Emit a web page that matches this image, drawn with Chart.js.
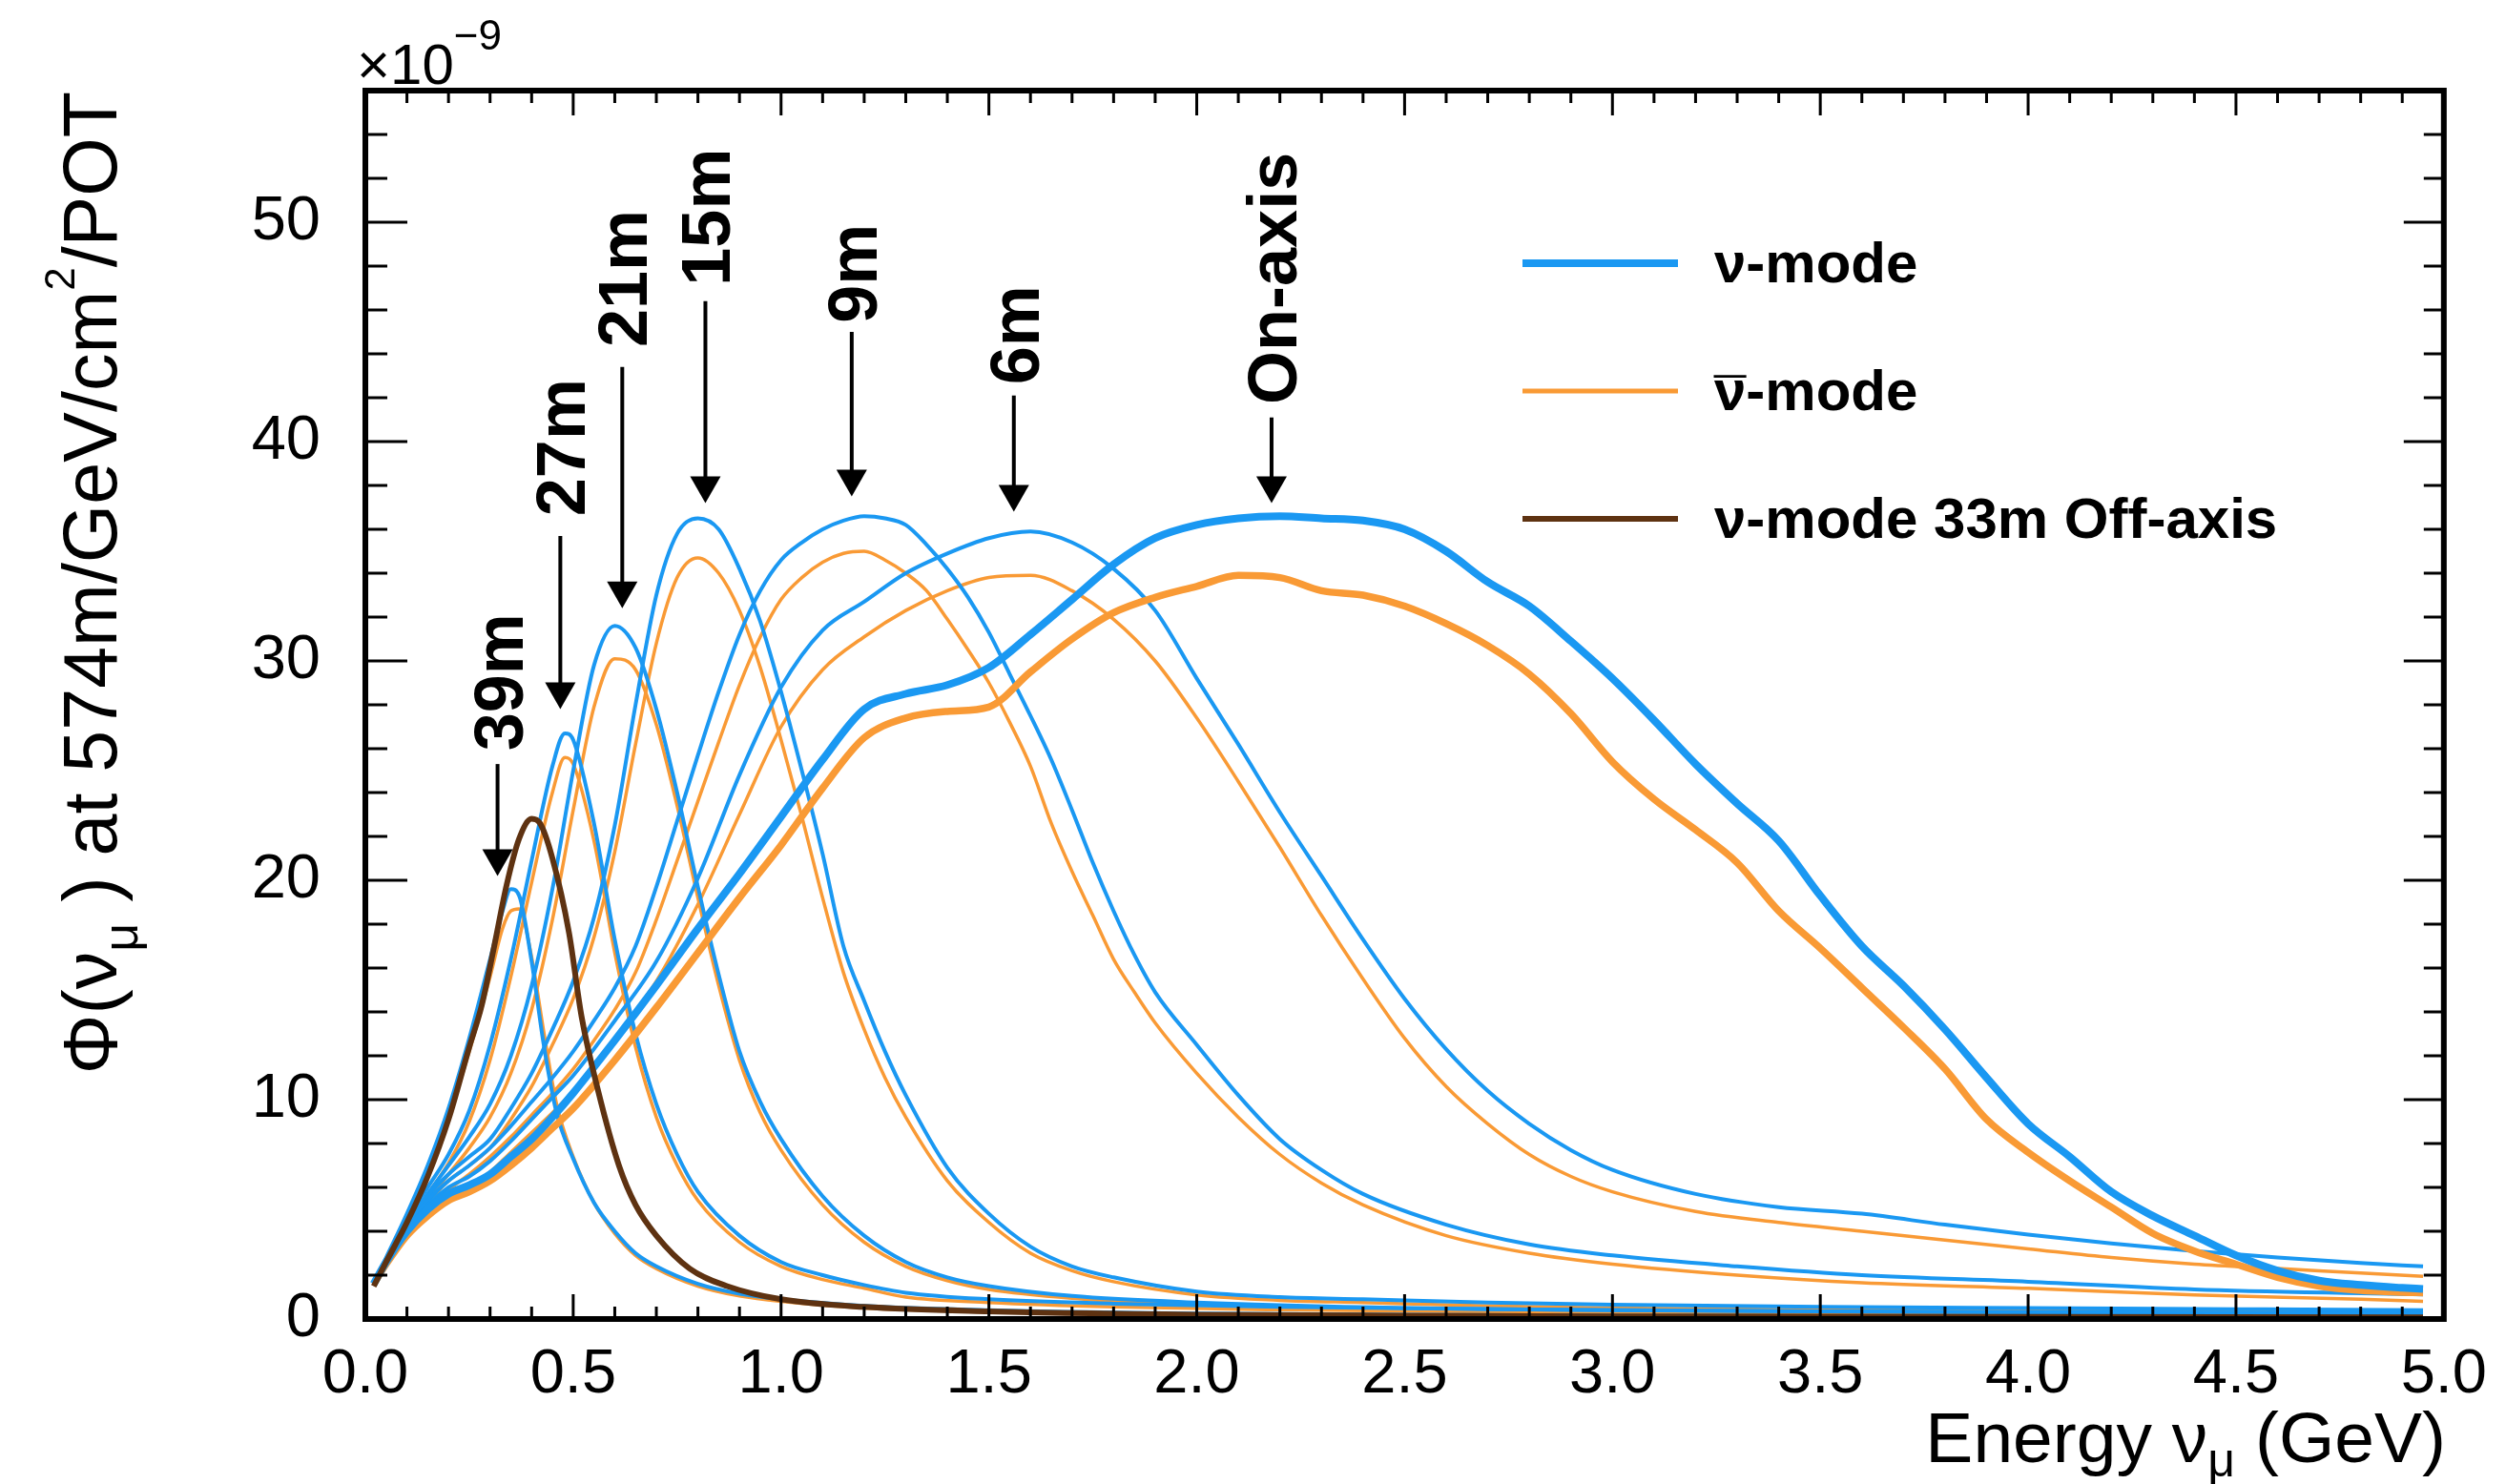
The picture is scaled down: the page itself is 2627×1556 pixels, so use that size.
<!DOCTYPE html>
<html>
<head>
<meta charset="utf-8">
<title>Muon neutrino flux at 574 m, on-axis and off-axis</title>
<script src="https://cdn.jsdelivr.net/npm/chart.js@4.4.1/dist/chart.umd.min.js"></script>
<style>
  html, body { margin: 0; padding: 0; background: #fff; }
  #wrap { width: 2627px; height: 1556px; }
</style>
</head>
<body>
<div id="wrap"><canvas id="flux" width="2627" height="1556"></canvas></div>
<script>
// ---- data (flux in units of 1e-9 /GeV/cm2/POT, energy in GeV) ----
const energyOnAxis = [0.02,0.05,0.1,0.15,0.2,0.25,0.3,0.35,0.4,0.45,0.5,0.6,0.7,0.8,0.9,1.0,1.1,1.2,1.3,1.4,1.5,1.6,1.7,1.8,1.9,2.0,2.1,2.2,2.3,2.4,2.5,2.6,2.7,2.8,2.9,3.0,3.1,3.2,3.3,3.4,3.5,3.6,3.7,3.8,3.9,4.0,4.1,4.2,4.3,4.4,4.5,4.6,4.7,4.8,4.9,4.95];
const nuOnAxis     = [1.6,2.6,4.0,5.0,5.7,6.1,6.6,7.4,8.2,9.2,10.3,12.7,15.2,17.8,20.3,22.9,25.5,27.8,28.5,28.9,29.7,31.2,32.8,34.4,35.6,36.2,36.5,36.6,36.5,36.4,36.0,35.0,33.6,32.5,30.9,29.2,27.3,25.3,23.5,21.8,19.3,17.0,15.2,13.2,11.0,8.9,7.4,5.8,4.7,3.8,2.9,2.2,1.75,1.55,1.42,1.37];
const nubarOnAxis  = [1.6,2.5,3.8,4.7,5.4,5.8,6.3,7.0,7.8,8.7,9.6,11.8,14.2,16.7,19.2,21.6,24.2,26.5,27.4,27.7,27.9,29.5,31.0,32.2,32.9,33.4,33.9,33.8,33.2,33.0,32.5,31.7,30.7,29.4,27.6,25.4,23.7,22.3,20.8,18.6,16.9,15.1,13.3,11.4,9.1,7.6,6.3,5.1,3.9,3.1,2.5,1.9,1.5,1.3,1.22,1.2];

const energy6m = [0.02,0.05,0.1,0.15,0.2,0.25,0.3,0.35,0.4,0.45,0.5,0.6,0.7,0.8,0.9,1.0,1.1,1.2,1.3,1.4,1.5,1.6,1.7,1.8,1.9,2.0,2.1,2.2,2.3,2.4,2.5,2.6,2.7,2.8,2.9,3.0,3.2,3.4,3.6,3.8,4.0,4.2,4.4,4.6,4.8,4.95];
const nu6m     = [1.6,2.7,4.1,5.2,6.0,6.5,7.2,8.1,9.1,10.1,11.1,13.6,16.3,20.1,24.8,28.8,31.4,32.7,34.0,34.9,35.6,35.9,35.4,34.2,32.3,29.2,26.2,23.1,20.2,17.3,14.6,12.3,10.4,8.9,7.7,6.8,5.7,5.1,4.8,4.3,3.85,3.45,3.1,2.8,2.55,2.4];
const nubar6m  = [1.6,2.6,3.9,4.9,5.6,6.1,6.7,7.6,8.5,9.4,10.4,12.8,15.4,18.9,23.0,27.0,29.6,31.1,32.3,33.2,33.8,33.9,33.2,31.9,30.0,27.4,24.5,21.5,18.4,15.5,12.8,10.6,8.9,7.5,6.5,5.8,4.9,4.4,4.0,3.6,3.2,2.8,2.5,2.3,2.1,1.95];

const energy9m = [0.02,0.05,0.1,0.15,0.2,0.25,0.3,0.35,0.4,0.45,0.5,0.55,0.6,0.65,0.7,0.75,0.8,0.85,0.9,0.95,1.0,1.05,1.1,1.15,1.2,1.25,1.3,1.35,1.4,1.45,1.5,1.55,1.6,1.65,1.7,1.75,1.8,1.85,1.9,2.0,2.1,2.2,2.3,2.4,2.6,2.8,3.0,3.3,3.6,4.0,4.4,4.8,4.95];
const nu9m     = [1.6,2.7,4.2,5.4,6.3,7.0,7.8,8.8,9.9,11.0,12.2,13.6,15.1,17.0,19.7,22.7,25.7,28.6,31.2,33.2,34.6,35.4,36.0,36.4,36.6,36.5,36.2,35.3,34.2,32.9,31.3,29.4,27.5,25.5,23.2,20.8,18.6,16.6,14.9,12.5,10.2,8.2,6.8,5.7,4.3,3.4,2.9,2.4,2.0,1.7,1.35,1.17,1.12];
const nubar9m  = [1.6,2.6,4.0,5.1,5.9,6.6,7.4,8.3,9.3,10.3,11.4,12.7,14.1,15.8,18.2,20.9,23.6,26.3,28.9,31.1,32.8,33.8,34.5,34.9,35.0,34.6,34.0,33.2,31.9,30.5,29.0,27.2,25.2,22.6,20.4,18.4,16.4,14.9,13.5,11.2,9.2,7.5,6.2,5.2,3.8,3.0,2.5,2.0,1.65,1.4,1.1,0.9,0.8];

const energy15m = [0.02,0.05,0.1,0.15,0.2,0.25,0.3,0.35,0.4,0.45,0.5,0.55,0.6,0.65,0.7,0.75,0.8,0.85,0.9,0.95,1.0,1.05,1.1,1.15,1.2,1.25,1.3,1.4,1.5,1.6,1.7,1.8,2.0,2.2,2.4,2.7,3.0,3.5,4.0,4.5,4.95];
const nu15m     = [1.6,2.7,4.3,5.6,6.6,7.4,8.2,9.6,11.2,13.2,15.4,18.3,22.5,28.0,33.0,35.8,36.5,36.0,34.2,31.8,28.6,25.0,21.2,17.0,14.5,12.2,10.2,6.9,4.8,3.3,2.4,1.9,1.25,1.0,0.9,0.75,0.65,0.55,0.5,0.45,0.4];
const nubar15m  = [1.6,2.6,4.1,5.3,6.3,7.0,7.8,9.1,10.6,12.5,14.6,17.4,21.3,26.2,30.8,33.8,34.7,34.0,32.3,29.7,26.4,22.9,19.2,15.8,13.2,11.0,9.2,6.3,4.4,3.0,2.2,1.7,1.1,0.85,0.75,0.6,0.5,0.42,0.38,0.34,0.3];

const energy21m = [0.02,0.05,0.1,0.15,0.2,0.25,0.3,0.35,0.4,0.45,0.5,0.55,0.6,0.65,0.7,0.75,0.8,0.85,0.9,0.95,1.0,1.1,1.2,1.3,1.4,1.5,1.7,2.0,2.5,3.0,3.5,4.0,4.5,4.95];
const nu21m     = [1.6,2.7,4.3,5.7,7.0,8.3,9.8,12.0,15.2,19.6,25.0,29.8,31.6,30.6,27.8,24.0,19.7,15.7,12.2,9.9,8.2,5.6,3.8,2.6,1.9,1.5,1.05,0.75,0.5,0.4,0.35,0.3,0.27,0.25];
const nubar21m  = [1.6,2.6,4.1,5.4,6.6,7.8,9.2,11.2,14.1,18.2,23.2,27.9,30.1,29.6,27.1,23.4,19.2,15.2,11.8,9.4,7.7,5.2,3.5,2.4,1.75,1.35,0.95,0.65,0.45,0.35,0.3,0.26,0.23,0.2];

const energy27m = [0.02,0.05,0.1,0.15,0.2,0.25,0.3,0.35,0.4,0.45,0.48,0.5,0.55,0.6,0.65,0.7,0.75,0.8,0.9,1.0,1.1,1.2,1.3,1.5,1.8,2.2,2.7,3.5,4.2,4.95];
const nu27m     = [1.6,2.7,4.5,6.0,7.5,9.5,12.5,16.4,20.9,25.2,26.7,26.4,22.6,17.3,13.0,9.8,7.5,5.8,3.8,2.6,2.0,1.55,1.2,0.9,0.7,0.55,0.45,0.35,0.3,0.25];
const nubar27m  = [1.6,2.6,4.3,5.7,7.1,9.0,11.8,15.6,19.9,24.0,25.6,25.3,21.8,16.7,12.4,9.2,7.0,5.4,3.5,2.4,1.8,1.4,1.0,0.75,0.55,0.42,0.33,0.25,0.2,0.18];

const energy39m = [0.02,0.05,0.1,0.15,0.2,0.25,0.3,0.33,0.35,0.37,0.4,0.43,0.46,0.5,0.55,0.6,0.65,0.7,0.8,0.9,1.0,1.2,1.5,2.0,2.5,3.0,4.0,4.95];
const nu39m     = [1.6,2.8,4.8,7.0,9.6,12.8,16.4,18.6,19.6,19.3,16.3,12.4,9.4,7.3,5.3,4.0,3.0,2.4,1.6,1.15,0.9,0.6,0.4,0.25,0.2,0.15,0.12,0.1];
const nubar39m  = [1.6,2.7,4.6,6.7,9.2,12.2,15.6,17.8,18.6,18.7,16.5,13.0,9.8,7.4,5.3,3.9,2.9,2.3,1.5,1.05,0.8,0.5,0.33,0.2,0.15,0.12,0.1,0.08];

const energy33m = [0.02,0.05,0.1,0.15,0.2,0.25,0.28,0.31,0.34,0.37,0.4,0.42,0.45,0.49,0.52,0.56,0.61,0.65,0.7,0.78,0.87,1.0,1.2,1.5,2.0,2.5,3.0,4.0,4.95];
const nu33m     = [1.5,2.6,4.4,6.5,9.1,12.4,14.3,17.0,19.8,21.9,22.8,22.6,21.0,17.6,13.8,10.4,7.0,5.2,3.8,2.3,1.5,0.9,0.55,0.35,0.2,0.15,0.12,0.1,0.08];

// axis ticks
const xTickValues = [0, 0.5, 1.0, 1.5, 2.0, 2.5, 3.0, 3.5, 4.0, 4.5, 5.0];
const yTickValues = [0, 10, 20, 30, 40, 50];

// peak annotations (energy of arrow, flux at arrow tip / arrow top / label start)
const peakLabels  = ['39m', '27m', '21m', '15m', '9m', '6m', 'On-axis'];
const peakEnergy  = [0.318, 0.469, 0.618, 0.818, 1.17, 1.56, 2.18];
const arrowTip    = [20.2, 27.8, 32.4, 37.2, 37.5, 36.8, 37.2];
const arrowTop    = [25.3, 35.7, 43.4, 46.4, 45.0, 42.1, 41.1];
const labelStart  = [25.9, 36.6, 44.3, 47.1, 45.4, 42.6, 41.7];

// legend: symbol, whether it carries a bar, rest of the text
const legendSymbols = ['\u03bd', '\u03bd', '\u03bd'];
const legendBars    = [false, true, false];
const legendRest    = ['-mode', '-mode', '-mode 33m Off-axis'];

// ---- styles ----
const BLUE = '#1a98f2';
const ORANGE = '#f99a35';
const BROWN = '#5e3211';
const FONT = '"Liberation Sans", Arial, Helvetica, sans-serif';

function pts(xs, ys) {
  return xs.map((x, i) => ({ x: x, y: ys[i] }));
}

function line(label, xs, ys, color, width) {
  return {
    label: label,
    data: pts(xs, ys),
    borderColor: color,
    backgroundColor: color,
    borderWidth: width,
    pointRadius: 0,
    fill: false,
    cubicInterpolationMode: 'monotone'
  };
}

// first dataset is drawn on top
const datasets = [
  line('nu 33m', energy33m, nu33m, BROWN, 6),
  line('nu on-axis', energyOnAxis, nuOnAxis, BLUE, 8),
  line('nubar on-axis', energyOnAxis, nubarOnAxis, ORANGE, 7.5),
  line('nu 6m', energy6m, nu6m, BLUE, 4),
  line('nu 9m', energy9m, nu9m, BLUE, 4),
  line('nu 15m', energy15m, nu15m, BLUE, 4),
  line('nu 21m', energy21m, nu21m, BLUE, 4),
  line('nu 27m', energy27m, nu27m, BLUE, 4),
  line('nu 39m', energy39m, nu39m, BLUE, 4),
  line('nubar 6m', energy6m, nubar6m, ORANGE, 3.5),
  line('nubar 9m', energy9m, nubar9m, ORANGE, 3.5),
  line('nubar 15m', energy15m, nubar15m, ORANGE, 3.5),
  line('nubar 21m', energy21m, nubar21m, ORANGE, 3.5),
  line('nubar 27m', energy27m, nubar27m, ORANGE, 3.5),
  line('nubar 39m', energy39m, nubar39m, ORANGE, 3.5)
];

// text made of pieces with their own size and vertical shift
function richWidth(ctx, parts) {
  let w = 0;
  for (const p of parts) {
    ctx.font = p.font;
    w += ctx.measureText(p.t).width;
  }
  return w;
}
function drawRich(ctx, parts, x, y) {
  let cx = x;
  for (const p of parts) {
    ctx.font = p.font;
    ctx.fillText(p.t, cx, y + (p.dy || 0));
    cx += ctx.measureText(p.t).width;
  }
}

const rootStyle = {
  id: 'rootStyle',
  afterDatasetsDraw(chart) {
    const ctx = chart.ctx;
    const a = chart.chartArea;
    const xs = chart.scales.x;
    const ys = chart.scales.y;
    ctx.save();
    ctx.fillStyle = '#000';
    ctx.strokeStyle = '#000';

    // inward ticks on all four sides
    ctx.lineWidth = 3;
    ctx.beginPath();
    for (let i = 0; i <= 50; i++) {
      const px = xs.getPixelForValue(i / 10);
      const len = i % 5 === 0 ? 26 : 13;
      ctx.moveTo(px, a.bottom); ctx.lineTo(px, a.bottom - len);
      ctx.moveTo(px, a.top); ctx.lineTo(px, a.top + len);
    }
    for (let v = 0; v <= 56; v += 2) {
      const py = ys.getPixelForValue(v);
      const major = v % 10 === 0;
      ctx.moveTo(a.left, py); ctx.lineTo(a.left + (major ? 44 : 23), py);
      ctx.moveTo(a.right, py); ctx.lineTo(a.right - (major ? 42 : 21), py);
    }
    ctx.stroke();

    // frame
    ctx.lineWidth = 6;
    ctx.strokeRect(a.left, a.top, a.right - a.left, a.bottom - a.top);

    // peak labels with arrows
    peakLabels.forEach((lab, i) => {
      const px = xs.getPixelForValue(peakEnergy[i]);
      const tip = ys.getPixelForValue(arrowTip[i]);
      const top = ys.getPixelForValue(arrowTop[i]);
      const start = ys.getPixelForValue(labelStart[i]);
      ctx.lineWidth = 4;
      ctx.beginPath();
      ctx.moveTo(px, top);
      ctx.lineTo(px, tip - 20);
      ctx.stroke();
      ctx.beginPath();
      ctx.moveTo(px, tip);
      ctx.lineTo(px - 16, tip - 28);
      ctx.lineTo(px + 16, tip - 28);
      ctx.closePath();
      ctx.fill();
      ctx.save();
      ctx.translate(px + 26, start);
      ctx.rotate(-Math.PI / 2);
      ctx.font = 'bold 72px ' + FONT;
      ctx.textAlign = 'left';
      ctx.textBaseline = 'alphabetic';
      ctx.fillText(lab, 0, 0);
      ctx.restore();
    });

    // legend
    const legendColors = [BLUE, ORANGE, BROWN];
    const legendWidths = [8, 5, 6];
    legendSymbols.forEach((sym, i) => {
      const ly = 276 + i * 134;
      ctx.strokeStyle = legendColors[i];
      ctx.lineWidth = legendWidths[i];
      ctx.beginPath();
      ctx.moveTo(1596, ly);
      ctx.lineTo(1759, ly);
      ctx.stroke();
      ctx.font = 'bold 60px ' + FONT;
      ctx.textAlign = 'left';
      ctx.textBaseline = 'alphabetic';
      const symW = ctx.measureText(sym).width;
      ctx.fillText(sym, 1797, ly + 20);
      if (legendBars[i]) {
        ctx.textAlign = 'center';
        ctx.fillText('\u00af', 1797 + symW / 2, ly + 28);
        ctx.textAlign = 'left';
      }
      ctx.fillText(legendRest[i], 1797 + symW, ly + 20);
    });

    // exponent label
    ctx.textAlign = 'left';
    ctx.textBaseline = 'alphabetic';
    drawRich(ctx, [
      { t: '\u00d710', font: '60px ' + FONT },
      { t: '\u22129', font: '44px ' + FONT, dy: -36 }
    ], 374, 88);

    // x title, right aligned
    const xTitle = [
      { t: 'Energy \u03bd', font: '75px ' + FONT },
      { t: '\u03bc', font: '50px ' + FONT, dy: 15 },
      { t: ' (GeV)', font: '75px ' + FONT }
    ];
    drawRich(ctx, xTitle, 2564 - richWidth(ctx, xTitle), 1533);

    // y title, rotated, ends at the top
    const yTitle = [
      { t: '\u03a6(\u03bd', font: '79px ' + FONT },
      { t: '\u03bc', font: '52px ' + FONT, dy: 22 },
      { t: ' ) at 574m/GeV/cm', font: '79px ' + FONT },
      { t: '2', font: '44px ' + FONT, dy: -44 },
      { t: '/POT', font: '79px ' + FONT }
    ];
    ctx.save();
    ctx.translate(122, 96);
    ctx.rotate(-Math.PI / 2);
    drawRich(ctx, yTitle, -richWidth(ctx, yTitle), 0);
    ctx.restore();

    ctx.restore();
  }
};

new Chart(document.getElementById('flux'), {
  type: 'line',
  data: { datasets: datasets },
  options: {
    responsive: false,
    animation: false,
    devicePixelRatio: 1,
    layout: { padding: { left: 0, right: 61, top: 95, bottom: 0 } },
    plugins: {
      legend: { display: false },
      tooltip: { enabled: false }
    },
    scales: {
      x: {
        type: 'linear',
        min: 0,
        max: 5,
        grid: { display: false, drawTicks: false },
        border: { display: false },
        afterBuildTicks: s => { s.ticks = xTickValues.map(v => ({ value: v })); },
        afterFit: s => { s.height = 173; },
        ticks: {
          autoSkip: false,
          maxRotation: 0,
          padding: 20,
          color: '#000',
          font: { family: FONT, size: 65 },
          callback: v => Number(v).toFixed(1)
        }
      },
      y: {
        type: 'linear',
        min: 0,
        max: 56,
        grid: { display: false, drawTicks: false },
        border: { display: false },
        afterBuildTicks: s => { s.ticks = yTickValues.map(v => ({ value: v })); },
        afterFit: s => { s.width = 383; },
        ticks: {
          padding: 47,
          color: '#000',
          font: { family: FONT, size: 65 },
          callback: v => String(v)
        }
      }
    }
  },
  plugins: [rootStyle]
});
</script>
</body>
</html>
